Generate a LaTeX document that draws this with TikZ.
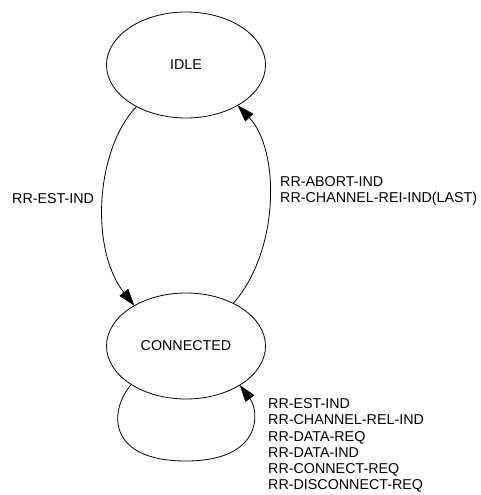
\documentclass[tikz,border=0pt]{standalone}
\usepackage{fontspec}
\setmainfont{Liberation Sans}
\usetikzlibrary{shapes.geometric,arrows.meta}
\begin{document}
\begin{tikzpicture}[x=1pt,y=-1pt,
  state/.style={draw,ellipse,line width=0.8pt,minimum width=159pt,minimum height=106pt,inner sep=0pt,outer sep=0pt,font=\fontsize{14.3}{16.2}\selectfont},
  lbl/.style={align=left,inner sep=0pt,anchor=west,font=\fontsize{14.3}{16.2}\selectfont},
  trans/.style={line width=0.8pt,-{Triangle[length=17pt,width=11pt]}}]
\useasboundingbox (0,0) rectangle (481,495);
\node[state] (idle) at (186,65) {IDLE};
\node[state] (conn) at (186,346) {CONNECTED};
\draw[trans] (idle.220) .. controls (95,150) and (90,250) .. (conn.142);
\draw[trans] (conn.42) .. controls (280,250) and (280,150) .. (idle.-38);
\draw[trans] (conn.215) .. controls (108,412) and (108,461) .. (186,461)
  .. controls (262,461) and (260,412) .. (conn.-36);
\node[lbl] (l1) at (12,199) {RR-EST-IND};
\node[lbl] (l2) at (280,191) {RR-ABORT-IND\\RR-CHANNEL-REI-IND(LAST)};
\node[lbl] (l3) at (268,445.5) {RR-EST-IND\\RR-CHANNEL-REL-IND\\RR-DATA-REQ\\RR-DATA-IND\\RR-CONNECT-REQ\\RR-DISCONNECT-REQ};
\end{tikzpicture}
\end{document}
